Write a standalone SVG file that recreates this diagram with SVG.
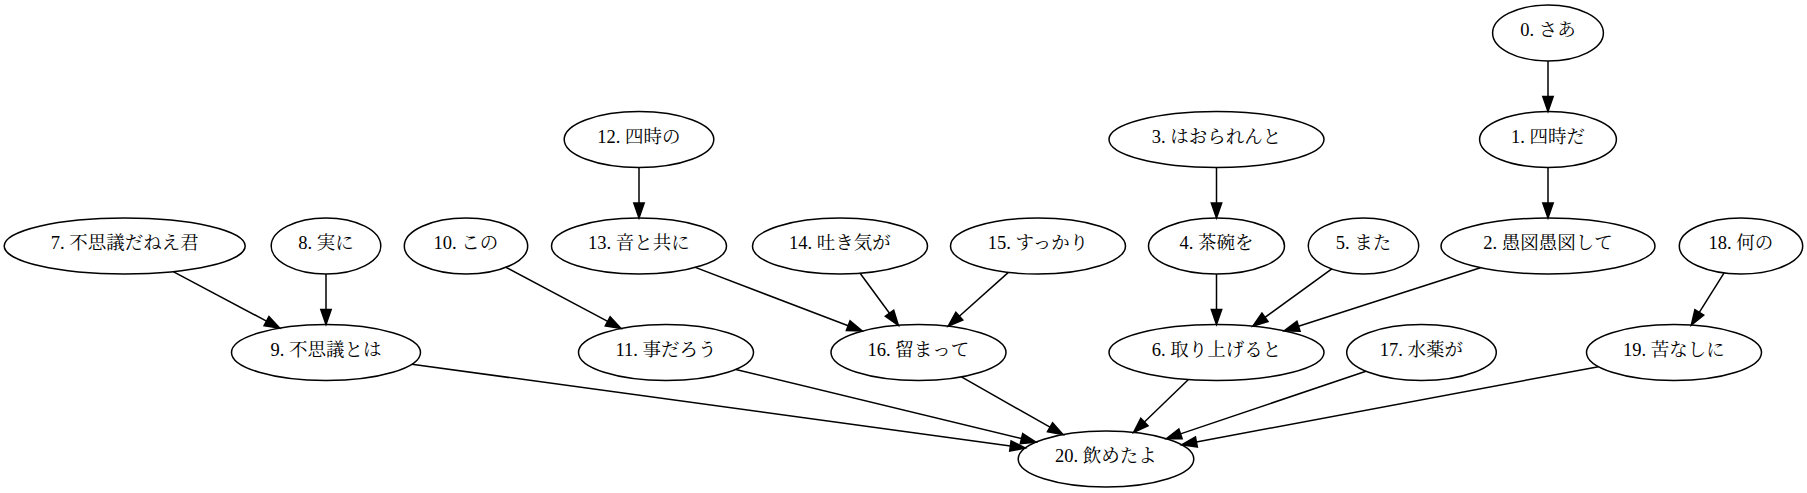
<svg xmlns="http://www.w3.org/2000/svg" width="1807" height="493" viewBox="0 0 1807 493">
<style>
.node ellipse{fill:none;stroke:#000;stroke-width:1.5}
.node text{font-family:"Liberation Serif","Noto Serif CJK JP","Noto Sans CJK JP",serif;font-size:18.5px;text-anchor:middle;fill:#000}
.edges line{stroke:#000;stroke-width:1.5;marker-end:url(#arr)}
</style>
<defs>
<marker id="arr" viewBox="0 0 15 10.4" markerWidth="15" markerHeight="10.4" refX="0" refY="5.2" orient="auto" markerUnits="userSpaceOnUse" overflow="visible">
<path d="M0,0 L15,5.2 L0,10.4 Z" fill="#000" stroke="#000" stroke-width="1.5"/>
</marker>
</defs>
<rect width="1807" height="493" fill="#fff"/>
<g class="edges" id="edges">
<line x1="1548" y1="61" x2="1548" y2="96.5"/>
<line x1="1548" y1="167.5" x2="1548" y2="203"/>
<line x1="1480.4" y1="267.7" x2="1298.5" y2="326.2"/>
<line x1="1216.5" y1="167.5" x2="1216.5" y2="203"/>
<line x1="1216.5" y1="274" x2="1216.5" y2="309.5"/>
<line x1="1331.8" y1="268.9" x2="1265" y2="317.35"/>
<line x1="1188.45" y1="379.5" x2="1144.4" y2="422"/>
<line x1="173.2" y1="271.6" x2="266.5" y2="321.1"/>
<line x1="326" y1="274" x2="326" y2="309.5"/>
<line x1="411.8" y1="364.2" x2="1010.4" y2="446"/>
<line x1="506" y1="267.3" x2="607.7" y2="321.45"/>
<line x1="735.8" y1="369.4" x2="1021.5" y2="438.6"/>
<line x1="639" y1="167.5" x2="639" y2="203"/>
<line x1="695.3" y1="267.4" x2="848.2" y2="325.7"/>
<line x1="860.1" y1="273.25" x2="889.5" y2="313.2"/>
<line x1="1008.4" y1="272.35" x2="959.3" y2="316.2"/>
<line x1="961.45" y1="376.9" x2="1050" y2="427.2"/>
<line x1="1365.95" y1="371.25" x2="1180.5" y2="433.85"/>
<line x1="1724.1" y1="272.9" x2="1699.3" y2="312.35"/>
<line x1="1598.5" y1="366.65" x2="1196.4" y2="442"/>
</g>
<g class="node" id="n0"><ellipse cx="1548" cy="33" rx="55.4" ry="28"/><text x="1548" y="36">0. さあ</text></g>
<g class="node" id="n1"><ellipse cx="1548" cy="139.5" rx="68.4" ry="28"/><text x="1548" y="142.5">1. 四時だ</text></g>
<g class="node" id="n2"><ellipse cx="1548" cy="246" rx="107" ry="28"/><text x="1548" y="249">2. 愚図愚図して</text></g>
<g class="node" id="n3"><ellipse cx="1216.5" cy="139.5" rx="107.5" ry="28"/><text x="1216.5" y="142.5">3. はおられんと</text></g>
<g class="node" id="n4"><ellipse cx="1216.5" cy="246" rx="68" ry="28"/><text x="1216.5" y="249">4. 茶碗を</text></g>
<g class="node" id="n5"><ellipse cx="1363.5" cy="246" rx="55.2" ry="28"/><text x="1363.5" y="249">5. また</text></g>
<g class="node" id="n6"><ellipse cx="1216.5" cy="352.5" rx="107.5" ry="28"/><text x="1216.5" y="355.5">6. 取り上げると</text></g>
<g class="node" id="n7"><ellipse cx="124.7" cy="246" rx="120.5" ry="28"/><text x="124.7" y="249">7. 不思議だねえ君</text></g>
<g class="node" id="n8"><ellipse cx="326" cy="246" rx="54.8" ry="28"/><text x="326" y="249">8. 実に</text></g>
<g class="node" id="n9"><ellipse cx="326" cy="352.5" rx="94.5" ry="28"/><text x="326" y="355.5">9. 不思議とは</text></g>
<g class="node" id="n10"><ellipse cx="466" cy="246" rx="61.7" ry="28"/><text x="466" y="249">10. この</text></g>
<g class="node" id="n11"><ellipse cx="666" cy="352.5" rx="87.5" ry="28"/><text x="666" y="355.5">11. 事だろう</text></g>
<g class="node" id="n12"><ellipse cx="639" cy="139.5" rx="74.8" ry="28"/><text x="639" y="142.5">12. 四時の</text></g>
<g class="node" id="n13"><ellipse cx="639" cy="246" rx="87.5" ry="28"/><text x="639" y="249">13. 音と共に</text></g>
<g class="node" id="n14"><ellipse cx="840" cy="246" rx="87.5" ry="28"/><text x="840" y="249">14. 吐き気が</text></g>
<g class="node" id="n15"><ellipse cx="1038" cy="246" rx="87.5" ry="28"/><text x="1038" y="249">15. すっかり</text></g>
<g class="node" id="n16"><ellipse cx="918.5" cy="352.5" rx="87.5" ry="28"/><text x="918.5" y="355.5">16. 留まって</text></g>
<g class="node" id="n17"><ellipse cx="1421.5" cy="352.5" rx="74.8" ry="28"/><text x="1421.5" y="355.5">17. 水薬が</text></g>
<g class="node" id="n18"><ellipse cx="1741" cy="246" rx="61.7" ry="28"/><text x="1741" y="249">18. 何の</text></g>
<g class="node" id="n19"><ellipse cx="1674" cy="352.5" rx="87.5" ry="28"/><text x="1674" y="355.5">19. 苦なしに</text></g>
<g class="node" id="n20"><ellipse cx="1106" cy="459" rx="87.8" ry="28"/><text x="1106" y="462">20. 飲めたよ</text></g>
</svg>
